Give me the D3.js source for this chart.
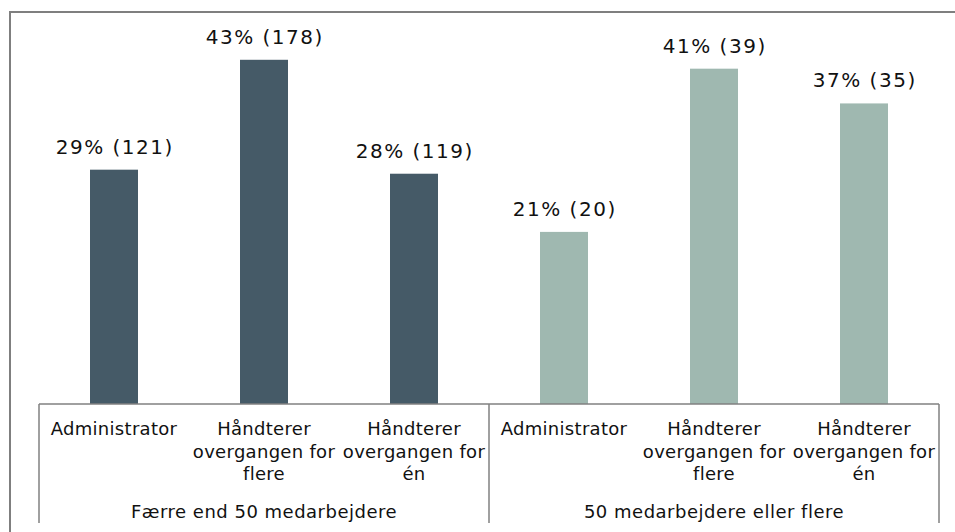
<!DOCTYPE html>
<html>
<head>
<meta charset="utf-8">
<script src="https://cdn.jsdelivr.net/npm/d3@7"></script>
<style>
    body { margin: 0; background: white; }
    svg { display: block; }
</style>
</head>
<body>
<svg id="chart" width="955" height="532"></svg>
<script>
// groups and categories on the x axis
var groups = ['Færre end 50 medarbejdere', '50 medarbejdere eller flere'];
var categories = ['Administrator', 'Håndterer overgangen for flere', 'Håndterer overgangen for én'];

// share per bar and the counts shown in the labels
var shares = [0.290, 0.426, 0.285, 0.213, 0.415, 0.372];
var counts = [121, 178, 119, 20, 39, 35];
var pctLabels = ['29%', '43%', '28%', '21%', '41%', '37%'];

var colors = ['#455a67', '#9fb8b0'];

var svg = d3.select('#chart');
var left = 39, right = 939, base = 404;

var bars = [];
groups.forEach(function(g, gi) {
    categories.forEach(function(c, ci) {
        var i = gi * categories.length + ci;
        bars.push({key: i, group: gi, cat: c, share: shares[i], count: counts[i], pct: pctLabels[i]});
    });
});

var x = d3.scaleBand()
    .domain(bars.map(function(d) { return d.key; }))
    .range([left, right])
    .paddingInner(0)
    .paddingOuter(0);

var y = d3.scaleLinear()
    .domain([0, 0.5])
    .range([base, 0]);

var barW = 48;
var font = 'DejaVu Sans, Verdana, sans-serif';

// outer frame
svg.append('rect')
    .attr('x', 10)
    .attr('y', 12)
    .attr('width', 1000)
    .attr('height', 600)
    .style('fill', 'none')
    .style('stroke', '#7f7f7f')
    .style('stroke-width', 2);

svg.selectAll('rect.bar')
    .data(bars)
    .enter()
    .append('rect')
    .attr('class', 'bar')
    .attr('x', function(d) { return x(d.key) + x.bandwidth() / 2 - barW / 2; })
    .attr('y', function(d) { return y(d.share); })
    .attr('width', barW)
    .attr('height', function(d) { return base - y(d.share); })
    .style('fill', function(d) { return colors[d.group]; });

svg.selectAll('text.value')
    .data(bars)
    .enter()
    .append('text')
    .attr('class', 'value')
    .attr('x', function(d) { return x(d.key) + x.bandwidth() / 2 + 0.75; })
    .attr('y', function(d) { return y(d.share) - 16; })
    .attr('text-anchor', 'middle')
    .style('font-family', font)
    .style('font-size', '20px')
    .style('letter-spacing', '1.5px')
    .style('fill', '#111')
    .text(function(d) { return d.pct + ' (' + d.count + ')'; });

// axis line and group separators
svg.append('line')
    .attr('x1', left)
    .attr('x2', right)
    .attr('y1', base)
    .attr('y2', base)
    .style('stroke', '#808080')
    .style('stroke-width', 1.5);

var groupW = x.bandwidth() * categories.length;
d3.range(groups.length + 1).forEach(function(i) {
    var gx = left + i * groupW;
    svg.append('line')
        .attr('x1', gx)
        .attr('x2', gx)
        .attr('y1', base)
        .attr('y2', 523)
        .style('stroke', '#808080')
        .style('stroke-width', 1.5);
});

function wrap(textSel, str, width) {
    var words = str.split(' ');
    var lines = [];
    var line = [];
    var probe = textSel.append('tspan');
    words.forEach(function(w) {
        line.push(w);
        probe.text(line.join(' '));
        if (probe.node().getComputedTextLength() > width && line.length > 1) {
            line.pop();
            lines.push(line.join(' '));
            line = [w];
        }
    });
    lines.push(line.join(' '));
    probe.remove();
    return lines;
}

bars.forEach(function(d) {
    var t = svg.append('text')
        .attr('x', x(d.key) + x.bandwidth() / 2)
        .attr('y', 435)
        .attr('text-anchor', 'middle')
        .style('font-family', font)
        .style('font-size', '18px')
        .style('letter-spacing', '0.3px')
        .style('fill', '#111');
    var lines = wrap(t, d.cat, x.bandwidth() - 2);
    lines.forEach(function(l, li) {
        t.append('tspan')
            .attr('x', x(d.key) + x.bandwidth() / 2)
            .attr('dy', li === 0 ? 0 : 22.5)
            .text(l);
    });
});

groups.forEach(function(g, gi) {
    svg.append('text')
        .attr('x', left + gi * groupW + groupW / 2)
        .attr('y', 518)
        .attr('text-anchor', 'middle')
        .style('font-family', font)
        .style('font-size', '18px')
        .style('letter-spacing', '0.5px')
        .style('fill', '#111')
        .text(g);
});
</script>
</body>
</html>
